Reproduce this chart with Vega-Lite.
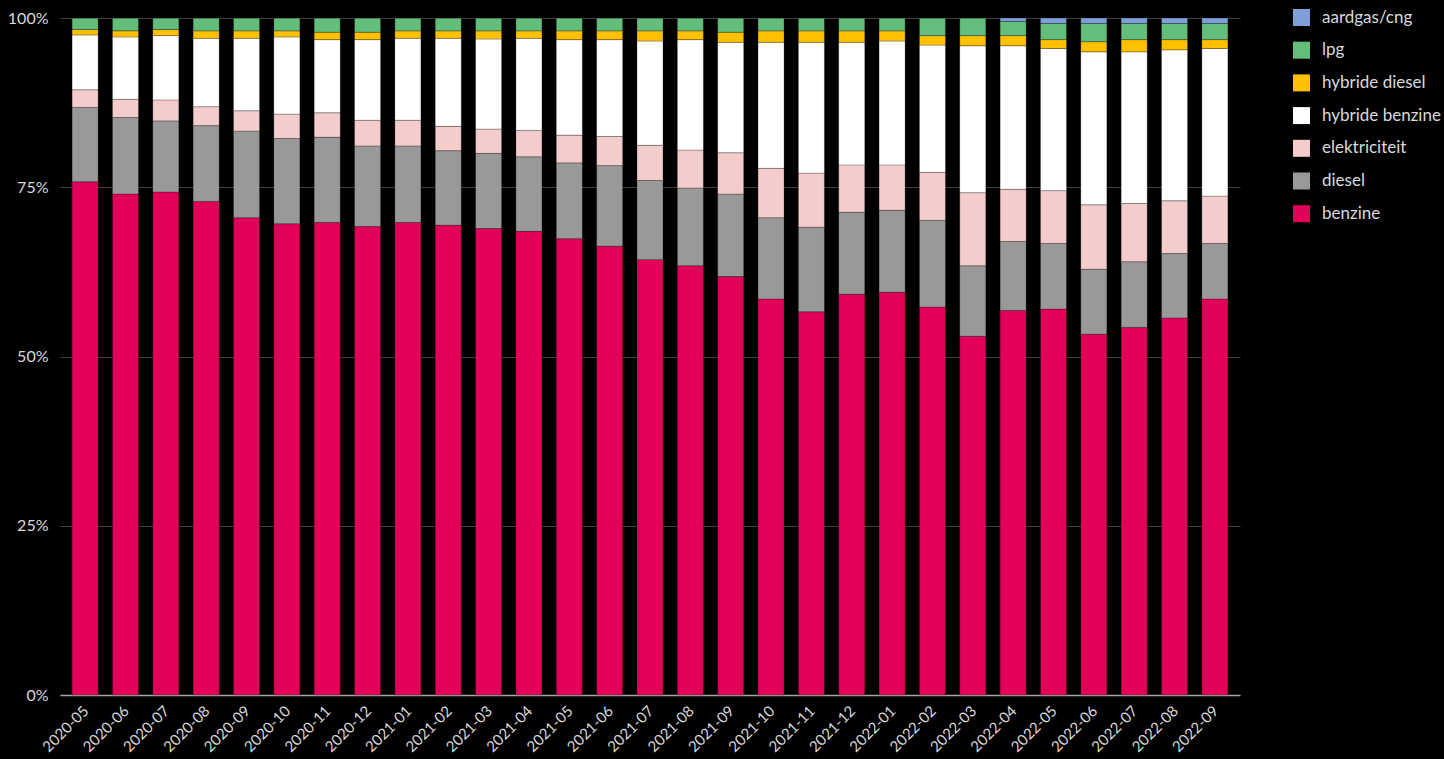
{
  "$schema": "https://vega.github.io/schema/vega-lite/v6.json",
  "autosize": "none",
  "width": 1180,
  "height": 677,
  "padding": {"left": 60, "top": 18, "right": 204, "bottom": 64},
  "background": "#000000",
  "config": {
    "view": {"stroke": null},
    "font": "Lato"
  },
  "data": {
    "values": [
      {"maand": "2020-05", "benzine": 75.8, "diesel": 11.0, "elektriciteit": 2.6, "hybride benzine": 8.1, "hybride diesel": 0.8, "lpg": 1.7, "aardgas/cng": 0},
      {"maand": "2020-06", "benzine": 74.0, "diesel": 11.3, "elektriciteit": 2.7, "hybride benzine": 9.2, "hybride diesel": 0.9, "lpg": 1.9, "aardgas/cng": 0},
      {"maand": "2020-07", "benzine": 74.3, "diesel": 10.5, "elektriciteit": 3.1, "hybride benzine": 9.5, "hybride diesel": 0.9, "lpg": 1.7, "aardgas/cng": 0},
      {"maand": "2020-08", "benzine": 72.9, "diesel": 11.2, "elektriciteit": 2.8, "hybride benzine": 10.1, "hybride diesel": 1.1, "lpg": 1.9, "aardgas/cng": 0},
      {"maand": "2020-09", "benzine": 70.5, "diesel": 12.8, "elektriciteit": 3.0, "hybride benzine": 10.7, "hybride diesel": 1.1, "lpg": 1.9, "aardgas/cng": 0},
      {"maand": "2020-10", "benzine": 69.6, "diesel": 12.6, "elektriciteit": 3.6, "hybride benzine": 11.4, "hybride diesel": 0.9, "lpg": 1.9, "aardgas/cng": 0},
      {"maand": "2020-11", "benzine": 69.8, "diesel": 12.6, "elektriciteit": 3.6, "hybride benzine": 10.8, "hybride diesel": 1.1, "lpg": 2.1, "aardgas/cng": 0},
      {"maand": "2020-12", "benzine": 69.2, "diesel": 11.9, "elektriciteit": 3.8, "hybride benzine": 11.9, "hybride diesel": 1.1, "lpg": 2.1, "aardgas/cng": 0},
      {"maand": "2021-01", "benzine": 69.8, "diesel": 11.3, "elektriciteit": 3.8, "hybride benzine": 12.1, "hybride diesel": 1.1, "lpg": 1.9, "aardgas/cng": 0},
      {"maand": "2021-02", "benzine": 69.4, "diesel": 11.0, "elektriciteit": 3.6, "hybride benzine": 13.0, "hybride diesel": 1.1, "lpg": 1.9, "aardgas/cng": 0},
      {"maand": "2021-03", "benzine": 68.9, "diesel": 11.1, "elektriciteit": 3.6, "hybride benzine": 13.3, "hybride diesel": 1.2, "lpg": 1.9, "aardgas/cng": 0},
      {"maand": "2021-04", "benzine": 68.5, "diesel": 11.0, "elektriciteit": 3.9, "hybride benzine": 13.6, "hybride diesel": 1.1, "lpg": 1.9, "aardgas/cng": 0},
      {"maand": "2021-05", "benzine": 67.4, "diesel": 11.2, "elektriciteit": 4.1, "hybride benzine": 14.1, "hybride diesel": 1.3, "lpg": 1.9, "aardgas/cng": 0},
      {"maand": "2021-06", "benzine": 66.3, "diesel": 11.9, "elektriciteit": 4.3, "hybride benzine": 14.3, "hybride diesel": 1.3, "lpg": 1.9, "aardgas/cng": 0},
      {"maand": "2021-07", "benzine": 64.3, "diesel": 11.7, "elektriciteit": 5.2, "hybride benzine": 15.4, "hybride diesel": 1.5, "lpg": 1.9, "aardgas/cng": 0},
      {"maand": "2021-08", "benzine": 63.4, "diesel": 11.5, "elektriciteit": 5.6, "hybride benzine": 16.3, "hybride diesel": 1.3, "lpg": 1.9, "aardgas/cng": 0},
      {"maand": "2021-09", "benzine": 61.8, "diesel": 12.2, "elektriciteit": 6.1, "hybride benzine": 16.3, "hybride diesel": 1.5, "lpg": 2.1, "aardgas/cng": 0},
      {"maand": "2021-10", "benzine": 58.5, "diesel": 12.0, "elektriciteit": 7.3, "hybride benzine": 18.6, "hybride diesel": 1.7, "lpg": 1.9, "aardgas/cng": 0},
      {"maand": "2021-11", "benzine": 56.6, "diesel": 12.5, "elektriciteit": 8.0, "hybride benzine": 19.3, "hybride diesel": 1.7, "lpg": 1.9, "aardgas/cng": 0},
      {"maand": "2021-12", "benzine": 59.2, "diesel": 12.1, "elektriciteit": 7.0, "hybride benzine": 18.1, "hybride diesel": 1.7, "lpg": 1.9, "aardgas/cng": 0},
      {"maand": "2022-01", "benzine": 59.5, "diesel": 12.1, "elektriciteit": 6.7, "hybride benzine": 18.3, "hybride diesel": 1.5, "lpg": 1.9, "aardgas/cng": 0},
      {"maand": "2022-02", "benzine": 57.3, "diesel": 12.8, "elektriciteit": 7.1, "hybride benzine": 18.8, "hybride diesel": 1.4, "lpg": 2.6, "aardgas/cng": 0},
      {"maand": "2022-03", "benzine": 53.0, "diesel": 10.4, "elektriciteit": 10.8, "hybride benzine": 21.7, "hybride diesel": 1.5, "lpg": 2.6, "aardgas/cng": 0},
      {"maand": "2022-04", "benzine": 56.8, "diesel": 10.2, "elektriciteit": 7.7, "hybride benzine": 21.2, "hybride diesel": 1.5, "lpg": 2.1, "aardgas/cng": 0.5},
      {"maand": "2022-05", "benzine": 57.0, "diesel": 9.7, "elektriciteit": 7.8, "hybride benzine": 21.0, "hybride diesel": 1.3, "lpg": 2.4, "aardgas/cng": 0.8},
      {"maand": "2022-06", "benzine": 53.3, "diesel": 9.6, "elektriciteit": 9.5, "hybride benzine": 22.6, "hybride diesel": 1.5, "lpg": 2.7, "aardgas/cng": 0.8},
      {"maand": "2022-07", "benzine": 54.3, "diesel": 9.7, "elektriciteit": 8.6, "hybride benzine": 22.4, "hybride diesel": 1.8, "lpg": 2.4, "aardgas/cng": 0.8},
      {"maand": "2022-08", "benzine": 55.7, "diesel": 9.5, "elektriciteit": 7.8, "hybride benzine": 22.3, "hybride diesel": 1.5, "lpg": 2.4, "aardgas/cng": 0.8},
      {"maand": "2022-09", "benzine": 58.5, "diesel": 8.2, "elektriciteit": 7.0, "hybride benzine": 21.8, "hybride diesel": 1.3, "lpg": 2.4, "aardgas/cng": 0.8}
    ]
  },
  "transform": [
    {"fold": ["benzine", "diesel", "elektriciteit", "hybride benzine", "hybride diesel", "lpg", "aardgas/cng"], "as": ["brandstof", "aandeel"]},
    {"calculate": "indexof(['benzine','diesel','elektriciteit','hybride benzine','hybride diesel','lpg','aardgas/cng'], datum.brandstof)", "as": "volgorde"}
  ],
  "mark": {"type": "bar", "stroke": "#000000", "strokeWidth": 0.6, "strokeOpacity": 0.4},
  "encoding": {
    "x": {
      "field": "maand",
      "type": "ordinal",
      "title": null,
      "scale": {"paddingInner": 0.355, "paddingOuter": 0.3},
      "axis": {
        "labelAngle": -45,
        "labelAlign": "right",
        "labelBaseline": "middle",
        "labelColor": "#d9d9d9",
        "labelFontSize": 15,
        "labelPadding": 13,
        "labelOffset": 1,
        "ticks": false,
        "domainColor": "#a6a6a6",
        "domainWidth": 1.5
      }
    },
    "y": {
      "field": "aandeel",
      "type": "quantitative",
      "stack": "normalize",
      "title": null,
      "axis": {
        "values": [0, 0.25, 0.5, 0.75, 1],
        "format": ".0%",
        "labelColor": "#d9d9d9",
        "labelFontSize": 16,
        "labelPadding": 12,
        "ticks": false,
        "domain": false,
        "gridColor": "#404040",
        "gridWidth": 1
      }
    },
    "color": {
      "field": "brandstof",
      "type": "nominal",
      "title": null,
      "scale": {
        "domain": ["aardgas/cng", "lpg", "hybride diesel", "hybride benzine", "elektriciteit", "diesel", "benzine"],
        "range": ["#7f9fd8", "#63be7b", "#ffc000", "#ffffff", "#f4cccc", "#999999", "#e30059"]
      },
      "legend": {
        "orient": "none",
        "legendX": 1233,
        "legendY": -9,
        "symbolType": "square",
        "symbolSize": 289,
        "symbolStrokeWidth": 0,
        "labelColor": "#d9d9d9",
        "labelFontSize": 17,
        "labelOffset": 12,
        "rowPadding": 14.7,
        "labelLimit": 300
      }
    },
    "order": {"field": "volgorde", "type": "quantitative", "sort": "ascending"}
  }
}
